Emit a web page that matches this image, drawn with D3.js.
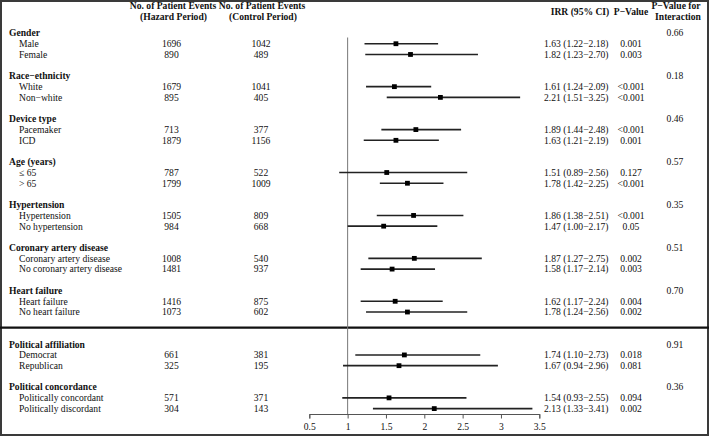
<!DOCTYPE html>
<html><head><meta charset="utf-8">
<script src="https://cdn.jsdelivr.net/npm/d3@7"></script>
<style>
html,body{margin:0;padding:0;background:#fff;}
svg{display:block;}
svg text{font-family:"Liberation Serif","DejaVu Serif",serif;}
</style></head>
<body>
<svg id="chart" width="709" height="436"></svg>
<script>
// ---- data ----
const groupNames = ["Gender","Race\u2212ethnicity","Device type","Age (years)","Hypertension","Coronary artery disease","Heart failure","Political affiliation","Political concordance"];
const interactionP = ["0.66","0.18","0.46","0.57","0.35","0.51","0.70","0.91","0.36"];
const subgroupLabels = [
  ["Male","Female"],["White","Non\u2212white"],["Pacemaker","ICD"],["\u2264 65","> 65"],
  ["Hypertension","No hypertension"],["Coronary artery disease","No coronary artery disease"],
  ["Heart failure","No heart failure"],["Democrat","Republican"],["Politically concordant","Politically discordant"]
];
const hazardEvents = [[1696,890],[1679,895],[713,1879],[787,1799],[1505,984],[1008,1481],[1416,1073],[661,325],[571,304]];
const controlEvents = [[1042,489],[1041,405],[377,1156],[522,1009],[809,668],[540,937],[875,602],[381,195],[371,143]];
const irr = [[1.63,1.82],[1.61,2.21],[1.89,1.63],[1.51,1.78],[1.86,1.47],[1.87,1.58],[1.62,1.78],[1.74,1.67],[1.54,2.13]];
const ciLow = [[1.22,1.23],[1.24,1.51],[1.44,1.21],[0.89,1.42],[1.38,1.00],[1.27,1.17],[1.17,1.24],[1.10,0.94],[0.93,1.33]];
const ciHigh = [[2.18,2.70],[2.09,3.25],[2.48,2.19],[2.56,2.25],[2.51,2.17],[2.75,2.14],[2.24,2.56],[2.73,2.96],[2.55,3.41]];
const pValues = [["0.001","0.003"],["<0.001","<0.001"],["<0.001","0.001"],["0.127","<0.001"],["<0.001","0.05"],["0.002","0.003"],["0.004","0.002"],["0.018","0.081"],["0.094","0.002"]];
const axisTicks = [0.5,1,1.5,2,2.5,3,3.5];
const groupRowStart = [0,4,8,12,16,20,24,29,33];

// ---- scales ----
const FONT = "Liberation Serif, DejaVu Serif, serif";
const svg = d3.select("#chart").attr("font-family",FONT);
const x = d3.scaleLinear().domain([0.5,3.5]).range([309.3,539.3]);
const y = d3.scaleLinear().domain([0,35]).range([33,408.6]);
const fs = 9.6;

// border
svg.append("rect").attr("x",1).attr("y",1).attr("width",707).attr("height",434)
  .attr("fill","none").attr("stroke","#3a3a3a").attr("stroke-width",2);
// separator
svg.append("line").attr("x1",0).attr("x2",709).attr("y1",y(27.45)).attr("y2",y(27.45))
  .attr("stroke","#111").attr("stroke-width",2.2);

// headers
const hdr = svg.append("g").attr("font-family",FONT).attr("font-weight","bold").attr("font-size",fs).attr("fill","#111").attr("text-anchor","middle");
hdr.append("text").attr("x",173).attr("y",6).attr("dy","0.35em").text("No. of Patient Events");
hdr.append("text").attr("x",173.5).attr("y",17).attr("dy","0.35em").text("(Hazard Period)");
hdr.append("text").attr("x",262).attr("y",6).attr("dy","0.35em").text("No. of Patient Events");
hdr.append("text").attr("x",263).attr("y",17).attr("dy","0.35em").text("(Control Period)");
hdr.append("text").attr("x",580).attr("y",11.5).attr("dy","0.35em").text("IRR (95% CI)");
hdr.append("text").attr("x",631).attr("y",11.5).attr("dy","0.35em").text("P\u2212Value");
hdr.append("text").attr("x",676).attr("y",5.5).attr("dy","0.35em").text("P\u2212Value for");
hdr.append("text").attr("x",678).attr("y",17).attr("dy","0.35em").text("Interaction");

// reference line
svg.append("line").attr("x1",x(1)).attr("x2",x(1)).attr("y1",37.5).attr("y2",414)
  .attr("stroke","#777").attr("stroke-width",1);

const body = svg.append("g").attr("font-family",FONT).attr("font-size",fs).attr("fill","#111");
groupNames.forEach((g,gi)=>{
  const r0 = groupRowStart[gi];
  body.append("text").attr("x",9).attr("y",y(r0)).attr("dy","0.35em").attr("font-weight","bold").text(g);
  body.append("text").attr("x",675).attr("y",y(r0)).attr("dy","0.35em").attr("text-anchor","middle").text(interactionP[gi]);
  [0,1].forEach(k=>{
    const yy = y(r0+1+k);
    body.append("text").attr("x",19).attr("y",yy).attr("dy","0.35em").text(subgroupLabels[gi][k]);
    body.append("text").attr("x",171.5).attr("y",yy).attr("dy","0.35em").attr("text-anchor","middle").text(hazardEvents[gi][k]);
    body.append("text").attr("x",261).attr("y",yy).attr("dy","0.35em").attr("text-anchor","middle").text(controlEvents[gi][k]);
    body.append("text").attr("x",544).attr("y",yy).attr("dy","0.35em")
      .text(irr[gi][k].toFixed(2)+" ("+ciLow[gi][k].toFixed(2)+"\u2212"+ciHigh[gi][k].toFixed(2)+")");
    body.append("text").attr("x",631).attr("y",yy).attr("dy","0.35em").attr("text-anchor","middle").text(pValues[gi][k]);
    svg.append("line").attr("x1",x(ciLow[gi][k])).attr("x2",x(ciHigh[gi][k])).attr("y1",yy).attr("y2",yy)
      .attr("stroke","#222").attr("stroke-width",1.6);
    svg.append("rect").attr("x",x(irr[gi][k])-2.4).attr("y",yy-2.4).attr("width",4.8).attr("height",4.8).attr("fill","#000");
  });
});

// axis
const axis = d3.axisBottom(x).tickValues(axisTicks).tickSize(4.5).tickSizeOuter(4.5).tickPadding(5).tickFormat(d=>String(d));
const ag = svg.append("g").attr("transform","translate(0,414)").call(axis).attr("font-family",FONT).attr("font-size",fs);
ag.selectAll("path,line").attr("stroke","#555");
ag.selectAll("text").attr("fill","#111");
</script>
</body></html>
